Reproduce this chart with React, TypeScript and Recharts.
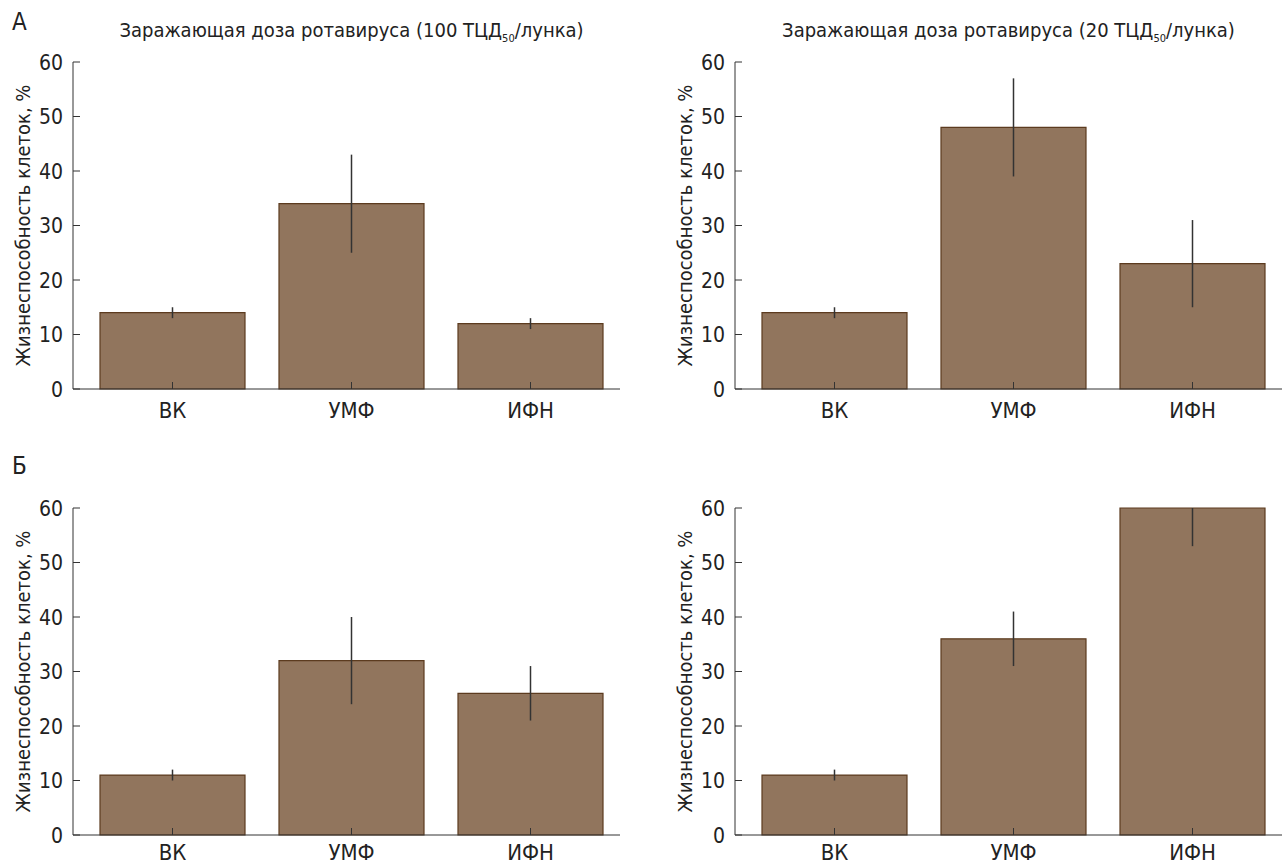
import { BarChart, Bar, XAxis, YAxis, ErrorBar } from 'recharts';

const categories = ['ВК', 'УМФ', 'ИФН'];
const yTicks = [0, 10, 20, 30, 40, 50, 60];

// А: 100 ТЦД50 / 20 ТЦД50
const a100 = [14, 34, 12];
const a100Err = [1, 9, 1];
const a20 = [14, 48, 23];
const a20Err = [1, 9, 8];

// Б: 100 ТЦД50 / 20 ТЦД50
const b100 = [11, 32, 26];
const b100Err = [1, 8, 5];
const b20 = [11, 36, 60];
const b20Err = [1, 5, 7];

const FONT = "'DejaVu Sans Condensed', 'DejaVu Sans', sans-serif";
const TEXT = '#222';
const AXIS = '#333';
const FILL = '#91755d';
const EDGE = '#5c3b1f';

const Y_AXIS_W = 73;

function build(vals: number[], errs: number[]) {
  return categories.map((c, i) => {
    const e = errs[i];
    const hi = Math.min(e, 60 - vals[i]); // error line stops at the top of the axis
    return { cat: c, v: vals[i], err: [e, hi] };
  });
}

function YTick(props: any) {
  const { x, y, payload } = props;
  return (
    <g>
      <line x1={x} y1={y} x2={x + 7} y2={y} stroke={AXIS} strokeWidth={1} />
      <text x={x - 10} y={y} dy={7.5} textAnchor="end" fontFamily={FONT} fontSize={21} fill={TEXT}>
        {payload.value}
      </text>
    </g>
  );
}

function XTick(props: any) {
  const { x, y, payload, labelDy } = props;
  return (
    <g>
      <line x1={x} y1={y} x2={x} y2={y - 7} stroke={AXIS} strokeWidth={1} />
      <text x={x} y={y} dy={labelDy} textAnchor="middle" fontFamily={FONT} fontSize={22} fill={TEXT}>
        {payload.value}
      </text>
    </g>
  );
}

function Panel({ vals, errs, width, labelDy }: { vals: number[]; errs: number[]; width: number; labelDy: number }) {
  const data = build(vals, errs);
  return (
    <BarChart width={width} height={374} data={data} margin={{ top: 12, right: 4, left: 0, bottom: 0 }} barSize={145}>
      <XAxis
        dataKey="cat"
        height={35}
        padding={{ left: 10, right: 0 }}
        tickLine={false}
        tickSize={0}
        tickMargin={0}
        tick={<XTick labelDy={labelDy} />}
        stroke={AXIS}
        interval={0}
      />
      <YAxis
        width={Y_AXIS_W}
        domain={[0, 60]}
        ticks={yTicks}
        tickLine={false}
        tickSize={0}
        tickMargin={0}
        tick={<YTick />}
        stroke={AXIS}
        label={{
          value: 'Жизнеспособность клеток, %',
          angle: -90,
          position: 'center',
          dx: -14,
          style: { fontFamily: FONT, fontSize: 20, fill: TEXT },
        }}
      />
      <Bar dataKey="v" fill={FILL} stroke={EDGE} strokeWidth={1.2} isAnimationActive={false}>
        <ErrorBar dataKey="err" width={0} stroke={AXIS} strokeWidth={1.5} direction="y" />
      </Bar>
    </BarChart>
  );
}

function Title({ dose, left, top, width }: { dose: string; left: number; top: number; width: number }) {
  return (
    <div
      style={{
        position: 'absolute',
        left,
        top,
        width,
        textAlign: 'center',
        fontFamily: FONT,
        fontSize: 20,
        lineHeight: '20px',
        color: TEXT,
        whiteSpace: 'nowrap',
      }}
    >
      Заражающая доза ротавируса ({dose} ТЦД
      <sub style={{ fontSize: 11, lineHeight: 0 }}>50</sub>/лунка)
    </div>
  );
}

function Letter({ ch, top }: { ch: string; top: number }) {
  return (
    <div
      style={{
        position: 'absolute',
        left: 12,
        top,
        fontFamily: FONT,
        fontSize: 24,
        lineHeight: '24px',
        color: TEXT,
      }}
    >
      {ch}
    </div>
  );
}

export default function App() {
  return (
    <div style={{ position: 'absolute', left: 0, top: 0, width: 1285, height: 865, background: '#fff', overflow: 'hidden' }}>
      <Letter ch="А" top={10} />
      <Letter ch="Б" top={454} />
      <Title dose="100" left={78} top={20} width={547} />
      <Title dose="20" left={735} top={20} width={547} />
      <div style={{ position: 'absolute', left: 0, top: 50 }}>
        <Panel vals={a100} errs={a100Err} width={624} labelDy={29} />
      </div>
      <div style={{ position: 'absolute', left: 662, top: 50 }}>
        <Panel vals={a20} errs={a20Err} width={624} labelDy={29} />
      </div>
      <div style={{ position: 'absolute', left: 0, top: 496 }}>
        <Panel vals={b100} errs={b100Err} width={624} labelDy={25} />
      </div>
      <div style={{ position: 'absolute', left: 662, top: 496 }}>
        <Panel vals={b20} errs={b20Err} width={624} labelDy={25} />
      </div>
    </div>
  );
}
